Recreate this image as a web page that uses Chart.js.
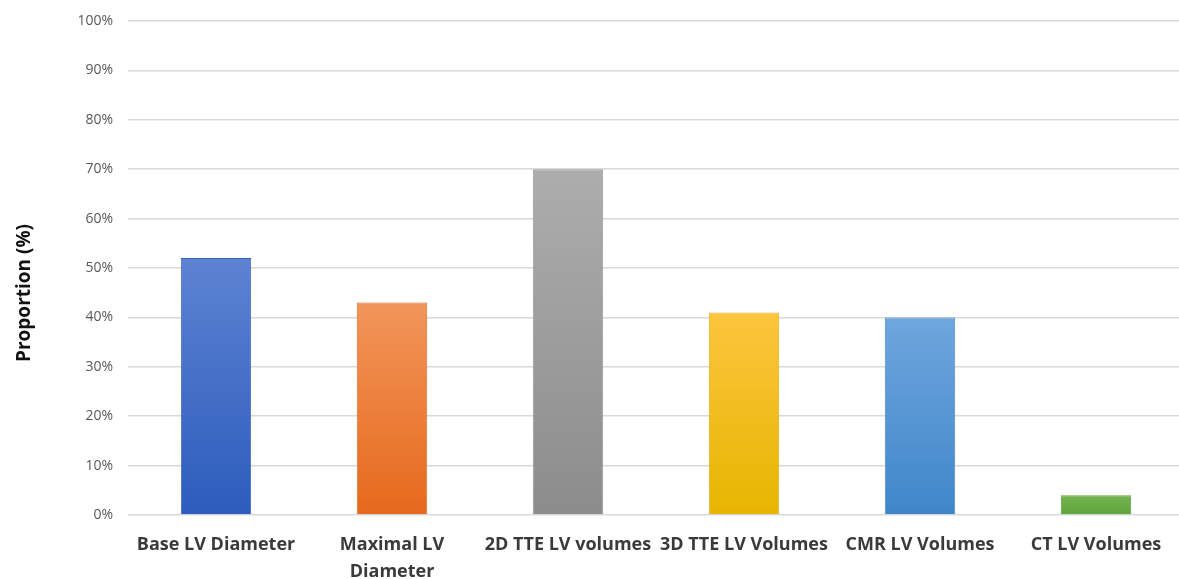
<!DOCTYPE html>
<html>
<head>
<meta charset="utf-8">
<script src="https://cdn.jsdelivr.net/npm/chart.js@4.4.0/dist/chart.umd.min.js"></script>
<style>
  html, body { margin: 0; padding: 0; background: #ffffff; overflow: hidden; }
  #wrap { position: relative; width: 1188px; height: 579px; }
</style>
</head>
<body>
<div id="wrap"><canvas id="c" width="1188" height="579"></canvas></div>
<script>
const categories = ["Base LV Diameter", ["Maximal LV", "Diameter"], "2D TTE LV volumes", "3D TTE LV Volumes", "CMR LV Volumes", "CT LV Volumes"];
const values = [52, 43, 70, 41, 40, 4];
const yTicks = [0, 10, 20, 30, 40, 50, 60, 70, 80, 90, 100];
const yTitle = "Proportion (%)";
const gradTop = ["#5d83d2", "#f2955a", "#adadad", "#fcc53e", "#6fa6de", "#73b54f"];
const gradBottom = ["#2c5cbc", "#e6691c", "#8c8c8c", "#e7b500", "#3f86c9", "#5ea43c"];
const borders = ["#3a62b4", "#d9732f", "#9a9a9a", "#e0b020", "#4a8cc8", "#5d9e3e"];

const FONT = "'Open Sans', 'Liberation Sans', sans-serif";

const yTitlePlugin = {
  id: 'yTitle',
  afterDraw(chart) {
    const ctx = chart.ctx;
    ctx.save();
    ctx.translate(25, 293);
    ctx.rotate(-Math.PI / 2);
    ctx.font = "bold 19px " + FONT;
    ctx.fillStyle = "#111111";
    ctx.textAlign = "center";
    ctx.textBaseline = "middle";
    ctx.fillText(yTitle, 0, 0);
    ctx.restore();
  }
};

new Chart(document.getElementById('c'), {
  type: 'bar',
  data: {
    labels: categories,
    datasets: [{
      data: values,
      backgroundColor: (c) => {
        const i = c.dataIndex;
        const chart = c.chart;
        const area = chart.chartArea;
        const ys = chart.scales && chart.scales.y;
        if (!area || !ys || i === undefined) return gradTop[i || 0];
        const top = ys.getPixelForValue(values[i]);
        const bot = ys.getPixelForValue(0);
        if (!isFinite(top) || !isFinite(bot) || top === bot) return gradTop[i];
        const g = chart.ctx.createLinearGradient(0, top, 0, bot);
        g.addColorStop(0, gradTop[i]);
        g.addColorStop(1, gradBottom[i]);
        return g;
      },
      borderColor: borders,
      borderWidth: 1,
      barPercentage: 0.4,
      categoryPercentage: 1.0
    }]
  },
  options: {
    responsive: false,
    animation: false,
    devicePixelRatio: 1,
    layout: { padding: { top: 21, right: 4, bottom: 0, left: 0 } },
    plugins: { legend: { display: false }, tooltip: { enabled: false } },
    scales: {
      x: {
        afterFit: (s) => { s.height = 64; },
        grid: { display: false },
        border: { display: false },
        ticks: {
          color: "#3a3a3a",
          font: { family: FONT, size: 18, weight: 'bold', lineHeight: 1.5 },
          maxRotation: 0,
          autoSkip: false,
          padding: 8
        }
      },
      y: {
        min: 0,
        max: 100,
        afterBuildTicks: (s) => { s.ticks = yTicks.map(v => ({ value: v })); },
        afterFit: (s) => { s.width = 128; s.paddingTop = 0; s.paddingBottom = 0; },
        grid: { color: "#d9d9d9", lineWidth: 1.5, drawTicks: false },
        border: { display: false },
        ticks: {
          color: "#595959",
          font: { family: FONT, size: 14, lineHeight: 1 },
          padding: 15,
          callback: (v) => v + "%"
        }
      }
    }
  },
  plugins: [yTitlePlugin]
});
</script>
</body>
</html>
